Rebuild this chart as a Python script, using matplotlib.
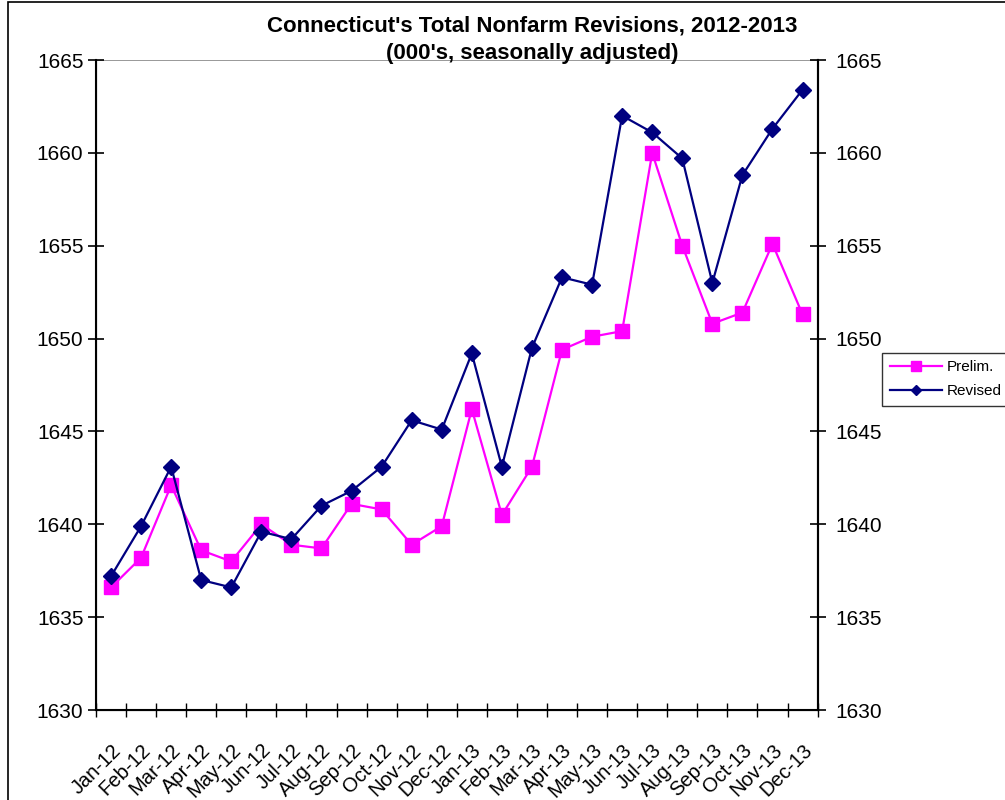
import numpy as np
import matplotlib
matplotlib.use('Agg')
import matplotlib.pyplot as plt
from matplotlib.patches import Rectangle

plt.rcParams['font.family'] = ['Liberation Sans', 'DejaVu Sans']

months = ['Jan-12', 'Feb-12', 'Mar-12', 'Apr-12', 'May-12', 'Jun-12',
          'Jul-12', 'Aug-12', 'Sep-12', 'Oct-12', 'Nov-12', 'Dec-12',
          'Jan-13', 'Feb-13', 'Mar-13', 'Apr-13', 'May-13', 'Jun-13',
          'Jul-13', 'Aug-13', 'Sep-13', 'Oct-13', 'Nov-13', 'Dec-13']
prelim = [1636.6, 1638.2, 1642.1, 1638.6, 1638.0, 1640.0,
          1638.9, 1638.7, 1641.1, 1640.8, 1638.9, 1639.9,
          1646.2, 1640.5, 1643.1, 1649.4, 1650.1, 1650.4,
          1660.0, 1655.0, 1650.8, 1651.4, 1655.1, 1651.3]
revised = [1637.2, 1639.9, 1643.1, 1637.0, 1636.6, 1639.6,
           1639.2, 1641.0, 1641.8, 1643.1, 1645.6, 1645.1,
           1649.2, 1643.1, 1649.5, 1653.3, 1652.9, 1662.0,
           1661.1, 1659.7, 1653.0, 1658.8, 1661.3, 1663.4]
yticks = [1630, 1635, 1640, 1645, 1650, 1655, 1660, 1665]

fig = plt.figure(figsize=(10.05, 8), dpi=100)
ax = fig.add_axes([0.0955, 0.1125, 0.718, 0.8125])
x = np.arange(len(months))

ax.plot(x, prelim, color='#FF00FF', lw=1.6, marker='s', ms=9.5,
        label='Prelim.', zorder=3)
ax.plot(x, revised, color='#000080', lw=1.6, marker='D', ms=8,
        label='Revised', zorder=4)

ax.set_xlim(-0.5, len(months) - 0.5)
ax.set_ylim(1630, 1665)
ax.set_yticks(yticks)
ax.tick_params(axis='y', direction='inout', length=12, width=1.2,
               labelsize=15, pad=3)

# ticks on category boundaries, labels at centres
ax.set_xticks(x)
ax.set_xticklabels(months, rotation=45, ha='right', rotation_mode='anchor',
                   fontsize=14.5)
ax.tick_params(axis='x', which='major', length=0, pad=22)
ax.set_xticks(np.arange(len(months) + 1) - 0.5, minor=True)
ax.tick_params(axis='x', which='minor', direction='inout', length=10, width=1)

ax.spines['top'].set_visible(False)
for s in ['left', 'right', 'bottom']:
    ax.spines[s].set_linewidth(1.5)
ax.axhline(1665, color='#888888', lw=1.2, zorder=1)

ax2 = ax.twinx()
ax2.set_ylim(1630, 1665)
ax2.set_yticks(yticks)
ax2.tick_params(axis='y', direction='inout', length=12, width=1.2,
                labelsize=15, pad=7)
ax2.spines['top'].set_visible(False)
ax2.spines['right'].set_linewidth(1.5)

fig.text(0.53, 0.967, "Connecticut's Total Nonfarm Revisions, 2012-2013",
         ha='center', va='center', fontsize=16, fontweight='bold')
fig.text(0.53, 0.933, "(000's, seasonally adjusted)",
         ha='center', va='center', fontsize=16, fontweight='bold')

h, l = ax.get_legend_handles_labels()
leg = fig.legend(h, l, loc='upper left', bbox_to_anchor=(0.878, 0.559),
                 borderaxespad=0, fontsize=11, frameon=True, fancybox=False,
                 edgecolor='black', handlelength=3.4, markerscale=0.7,
                 borderpad=0.5, labelspacing=0.65, handletextpad=0.3)
leg.get_frame().set_linewidth(1.0)

fig.patches.append(Rectangle((8 / 1005, -0.01), 1.0, 1.0 - 2 / 800 + 0.01,
                             transform=fig.transFigure, fill=False,
                             edgecolor='black', lw=1.2))

fig.savefig('out.png', dpi=100)
